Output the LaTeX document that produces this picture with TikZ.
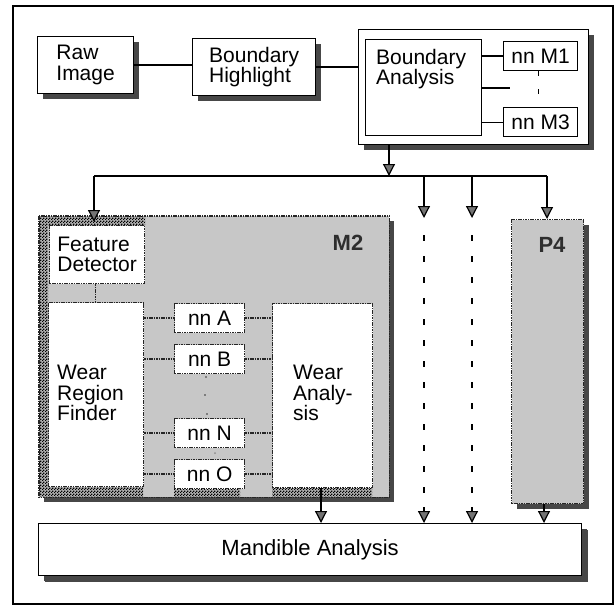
\documentclass[tikz,border=0pt]{standalone}
\usepackage{fontspec}
\setmainfont{Liberation Sans}
\usetikzlibrary{arrows.meta,shadows,patterns}
\pgfdeclarepatternformonly{finecheck}{\pgfpointorigin}{\pgfqpoint{3pt}{3pt}}{\pgfqpoint{3pt}{3pt}}{%
  \pgfpathrectangle{\pgfpointorigin}{\pgfqpoint{1.5pt}{1.5pt}}%
  \pgfpathrectangle{\pgfqpoint{1.5pt}{1.5pt}}{\pgfqpoint{1.5pt}{1.5pt}}%
  \pgfusepath{fill}}
\begin{document}
\begin{tikzpicture}[x=1pt,y=-1pt,
  every node/.style={font=\fontsize{21}{20.5}\selectfont},
  box/.style={draw=black,line width=1.2pt,fill=white,inner sep=0pt,anchor=north west,align=left},
  dsh/.style={drop shadow={shadow xshift=5pt,shadow yshift=-5pt,fill=black!72,opacity=1}},
  perf/.style={draw=black!85,line width=1.2pt,dash pattern=on 1.6pt off 0.8pt},
  pbox/.style={perf,fill=white,inner sep=0pt,anchor=north west,align=left},
  conn/.style={line width=1.2pt,draw=black},
  pconn/.style={line width=1.3pt,draw=black!85,dash pattern=on 1.6pt off 0.8pt},
  arr/.style={conn,-{Triangle[width=12pt,length=12pt,fill=black!55]}},
  lbl/.style={inner sep=0pt,anchor=north west,align=left},
  band/.style={pattern=finecheck,pattern color=black},
  grp/.style={fill=black!22,inner sep=0pt,anchor=north west},
  tag/.style={font=\fontsize{22}{22}\selectfont\bfseries,text=black!82}
]
\useasboundingbox (0,0) rectangle (615,607);
\draw[line width=1.2pt] (13,6) rectangle (613,604);

% top row
\node[box,dsh,minimum width=96pt,minimum height=57pt] (raw) at (37,36) {Raw\\Image};
\node[box,dsh,minimum width=123pt,minimum height=57pt] (bh) at (192,38) {Boundary\\Highlight};
\node[box,dsh,minimum width=230pt,minimum height=115pt] (bac) at (358,29) {};
\node[box,minimum width=116pt,minimum height=96pt] (ba) at (365,39) {};
\node[lbl] (batxt) at (376,49) {Boundary\\Analysis};
\node[box,minimum width=74pt,minimum height=29pt] (m1) at (503,41) {nn M1};
\node[box,minimum width=74pt,minimum height=29pt] (m3) at (503,107) {nn M3};
\coordinate (mid) at (510,88);

\draw[conn] (raw.east) -- (raw.east -| bh.west);
\draw[conn] (bh.east) -- (bh.east -| bac.west);
\draw[conn] (ba.east |- m1.west) -- (m1.west);
\draw[conn] (ba.east |- mid) -- (mid);
\draw[conn] (ba.east |- m3.west) -- (m3.west);
\draw[conn,dash pattern=on 5pt off 13pt] ([xshift=-2pt]m1.south) -- ([xshift=-2pt]m3.north);

% M2 group
\node[grp,dsh,minimum width=350pt,minimum height=281pt] (m2) at (39,216) {};
\fill[black!30] (39,216) rectangle (48,497) (39,216) rectangle (145,225)
  (39,486) rectangle (143,497) (174,488) rectangle (240,497) (272,487) rectangle (372,497);
\path[band] (39,216) rectangle (48,497) (48,216) rectangle (145,225)
  (48,486) rectangle (143,497) (174,488) rectangle (240,497) (272,487) rectangle (372,497);
\draw[perf] (m2.north west) rectangle (m2.south east);
\node[tag] (m2lbl) at (348,243) {M2};

\node[pbox,minimum width=95pt,minimum height=58pt] (fd) at (49,225) {Feature\\Detector};
\node[pbox,minimum width=95pt,minimum height=184pt] (wrf) at (48,302) {};
\node[lbl] (wrftxt) at (57,365) {Wear\\Region\\Finder};
\node[pbox,minimum width=100pt,minimum height=184pt] (wa) at (272,303) {};
\node[lbl] (watxt) at (293,365) {Wear\\Analy-\\sis};
\node[pbox,minimum width=70pt,minimum height=29pt] (na) at (174,303) {nn A};
\node[pbox,minimum width=70pt,minimum height=29pt] (nb) at (174,344) {nn B};
\node[pbox,minimum width=70pt,minimum height=29pt] (nN) at (174,418) {nn N};
\node[pbox,minimum width=70pt,minimum height=29pt] (nO) at (174,459) {nn O};

\draw[pconn] ([xshift=-1.5pt]fd.south) -- ([xshift=-1.5pt]fd.south |- wrf.north);
\foreach \n in {na,nb,nN,nO}{
  \draw[pconn] (wrf.east |- \n.west) -- (\n.west);
  \draw[pconn] (\n.east) -- (\n.east -| wa.west);
}
\fill[black!80] (206,377) circle (0.9) (205,395) circle (0.9) (207,414) circle (0.9);
\fill[black!45] (215,453) circle (1);

% P4
\node[grp,dsh,perf,minimum width=72pt,minimum height=284pt] (p4) at (511,219) {};
\node[tag] (p4lbl) at (552,245) {P4};

% Mandible
\node[box,dsh,minimum width=543pt,minimum height=52pt,font=\fontsize{22}{22}\selectfont,
  drop shadow={shadow xshift=6pt,shadow yshift=-6pt,fill=black!72,opacity=1}] (man) at (38,523) {Mandible Analysis};

% distribution
\coordinate (tr) at (389,176);
\coordinate (hl) at (94,176);
\coordinate (hr) at (547,176);
\coordinate (d1) at (424,176);
\coordinate (d2) at (472,176);
\coordinate (m2in) at (94,222);
\coordinate (d1a) at (424,218);
\coordinate (d2a) at (472,218);
\coordinate (d1s) at (424,235);
\coordinate (d1e) at (424,494);
\coordinate (d2s) at (472,235);
\coordinate (d2e) at (472,494);
\coordinate (d1b) at (424,507);
\coordinate (d2b) at (472,507);
\coordinate (wax) at (321,0);
\coordinate (p4x) at (544,0);

\draw[arr] (bac.south -| tr) -- (tr);
\draw[conn] (hl) -- (hr);
\draw[arr] (hl) -- (m2in);
\draw[arr] (d1) -- (d1a);
\draw[arr] (d2) -- (d2a);
\draw[arr] (hr) -- (p4.north -| hr);
\draw[conn,dash pattern=on 6pt off 15pt] (d1s) -- (d1e);
\draw[conn,dash pattern=on 6pt off 15pt] (d2s) -- (d2e);
\draw[arr] (d1b) -- (man.north -| d1b);
\draw[arr] (d2b) -- (man.north -| d2b);
\draw[arr] (wa.south -| wax) -- (man.north -| wax);
\draw[arr] (p4.south -| p4x) -- (man.north -| p4x);
\end{tikzpicture}
\end{document}
